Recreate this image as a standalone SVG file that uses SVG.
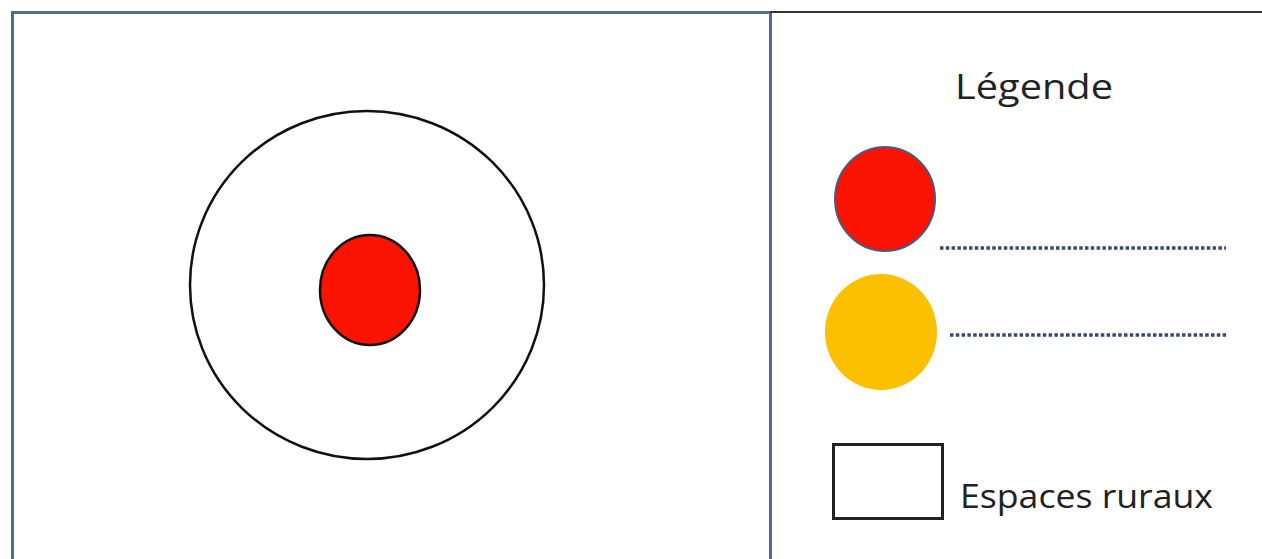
<svg xmlns="http://www.w3.org/2000/svg" width="1262" height="559" viewBox="0 0 1262 559">
<style>
.frame{fill:none;stroke:#4f6d8c;stroke-width:3}
.dots{stroke:#3a4a6a;stroke-width:3.5;stroke-dasharray:3.5 2.3}
.txt{font-family:"Open Sans","Lato",sans-serif;fill:#222;font-weight:500}
</style>
<rect width="1262" height="559" fill="#fff"/>
<g id="map">
<path class="frame" d="M12.5 559V12.5H770.5V559"/>
<line x1="770" y1="12" x2="1262" y2="12" stroke="#333" stroke-width="2"/>
<ellipse id="rural" cx="367" cy="285" rx="177" ry="174" fill="#fff" stroke="#111" stroke-width="2.5"/>
<ellipse id="city" cx="370" cy="290" rx="50" ry="55" fill="#fa1300" stroke="#111" stroke-width="2.5"/>
</g>
<g id="legend">
<text class="txt" x="955" y="99" font-size="34" textLength="158" lengthAdjust="spacingAndGlyphs">Légende</text>
<g id="leg-red">
<ellipse cx="885" cy="199" rx="50" ry="52" fill="#fa1300" stroke="#4a5a80" stroke-width="2"/>
<line class="dots" x1="940" y1="248" x2="1226" y2="248"/>
</g>
<g id="leg-orange">
<ellipse cx="881" cy="332" rx="56" ry="58" fill="#fdc000"/>
<line class="dots" x1="950" y1="335" x2="1228" y2="335"/>
</g>
<g id="leg-rural">
<rect x="833.5" y="444.5" width="109" height="74" fill="#fff" stroke="#222" stroke-width="3"/>
<text class="txt" x="960" y="508" font-size="33" textLength="253" lengthAdjust="spacingAndGlyphs">Espaces ruraux</text>
</g>
</g>
</svg>
